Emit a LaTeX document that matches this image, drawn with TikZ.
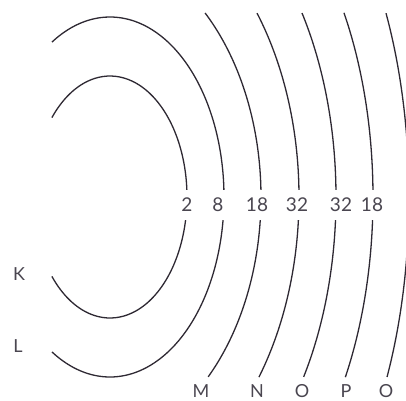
\documentclass[tikz,border=0pt]{standalone}
\usepackage{fontspec}
\setmainfont{Lato}
\definecolor{linecol}{HTML}{2E2933}
\definecolor{txtcol}{HTML}{4A4650}
\begin{document}
\begin{tikzpicture}[x=1pt,y=-1pt,
  shell/.style={draw=linecol, line width=1.3pt},
  num/.style={fill=white, text=txtcol, font=\fontsize{19}{19}\selectfont, text height=14pt, text depth=0pt, inner ysep=8pt, inner xsep=1pt},
  lab/.style={text=txtcol, font=\fontsize{18}{18}\selectfont, inner sep=0pt}]
\useasboundingbox (0,0) rectangle (406,400);
\clip (0,0) rectangle (406,400);
% K
\draw[shell] plot[domain=-139:139, samples=90, smooth] ({110+77*cos(\x)}, {197+121*sin(\x)});
% L
\draw[shell] plot[domain=-120.6:120.6, samples=90, smooth] ({110+114*cos(\x)}, {197+180*sin(\x)});
% M
\draw[shell] plot[domain=-47.4:46, samples=70, smooth] ({88+173*cos(\x)}, {197+250*sin(\x)});
% N
\draw[shell] plot[domain=-37.8:36.9, samples=70, smooth] ({99+200*cos(\x)}, {197+300*sin(\x)});
% O
\draw[shell] plot[domain=-35.1:34.2, samples=70, smooth] ({149+187*cos(\x)}, {197+320*sin(\x)});
% P
\draw[shell] plot[domain=-32.8:32, samples=70, smooth] ({191+182*cos(\x)}, {197+340*sin(\x)});
% Q
\draw[shell] plot[domain=-30.7:30, samples=70, smooth] ({245+164*cos(\x)}, {197+360*sin(\x)});
% electron counts
\node[num] (nK) at (187,204.5) {2};
\node[num] (nL) at (218,204.5) {8};
\node[num] (nM) at (257,204.5) {18};
\node[num] (nN) at (297,204.5) {32};
\node[num] (nO) at (341,204.5) {32};
\node[num] (nP) at (372,204.5) {18};
\node[num] (nQ) at (411,204.5) {8};
% shell letters
\node[lab] (lK) at (19,274) {K};
\node[lab] (lL) at (18,346) {L};
\node[lab] (lM) at (201,391) {M};
\node[lab] (lN) at (257,391) {N};
\node[lab] (lO) at (302,391) {O};
\node[lab] (lP) at (346,391) {P};
\node[lab] (lQ) at (386,391) {O};
\end{tikzpicture}
\end{document}
